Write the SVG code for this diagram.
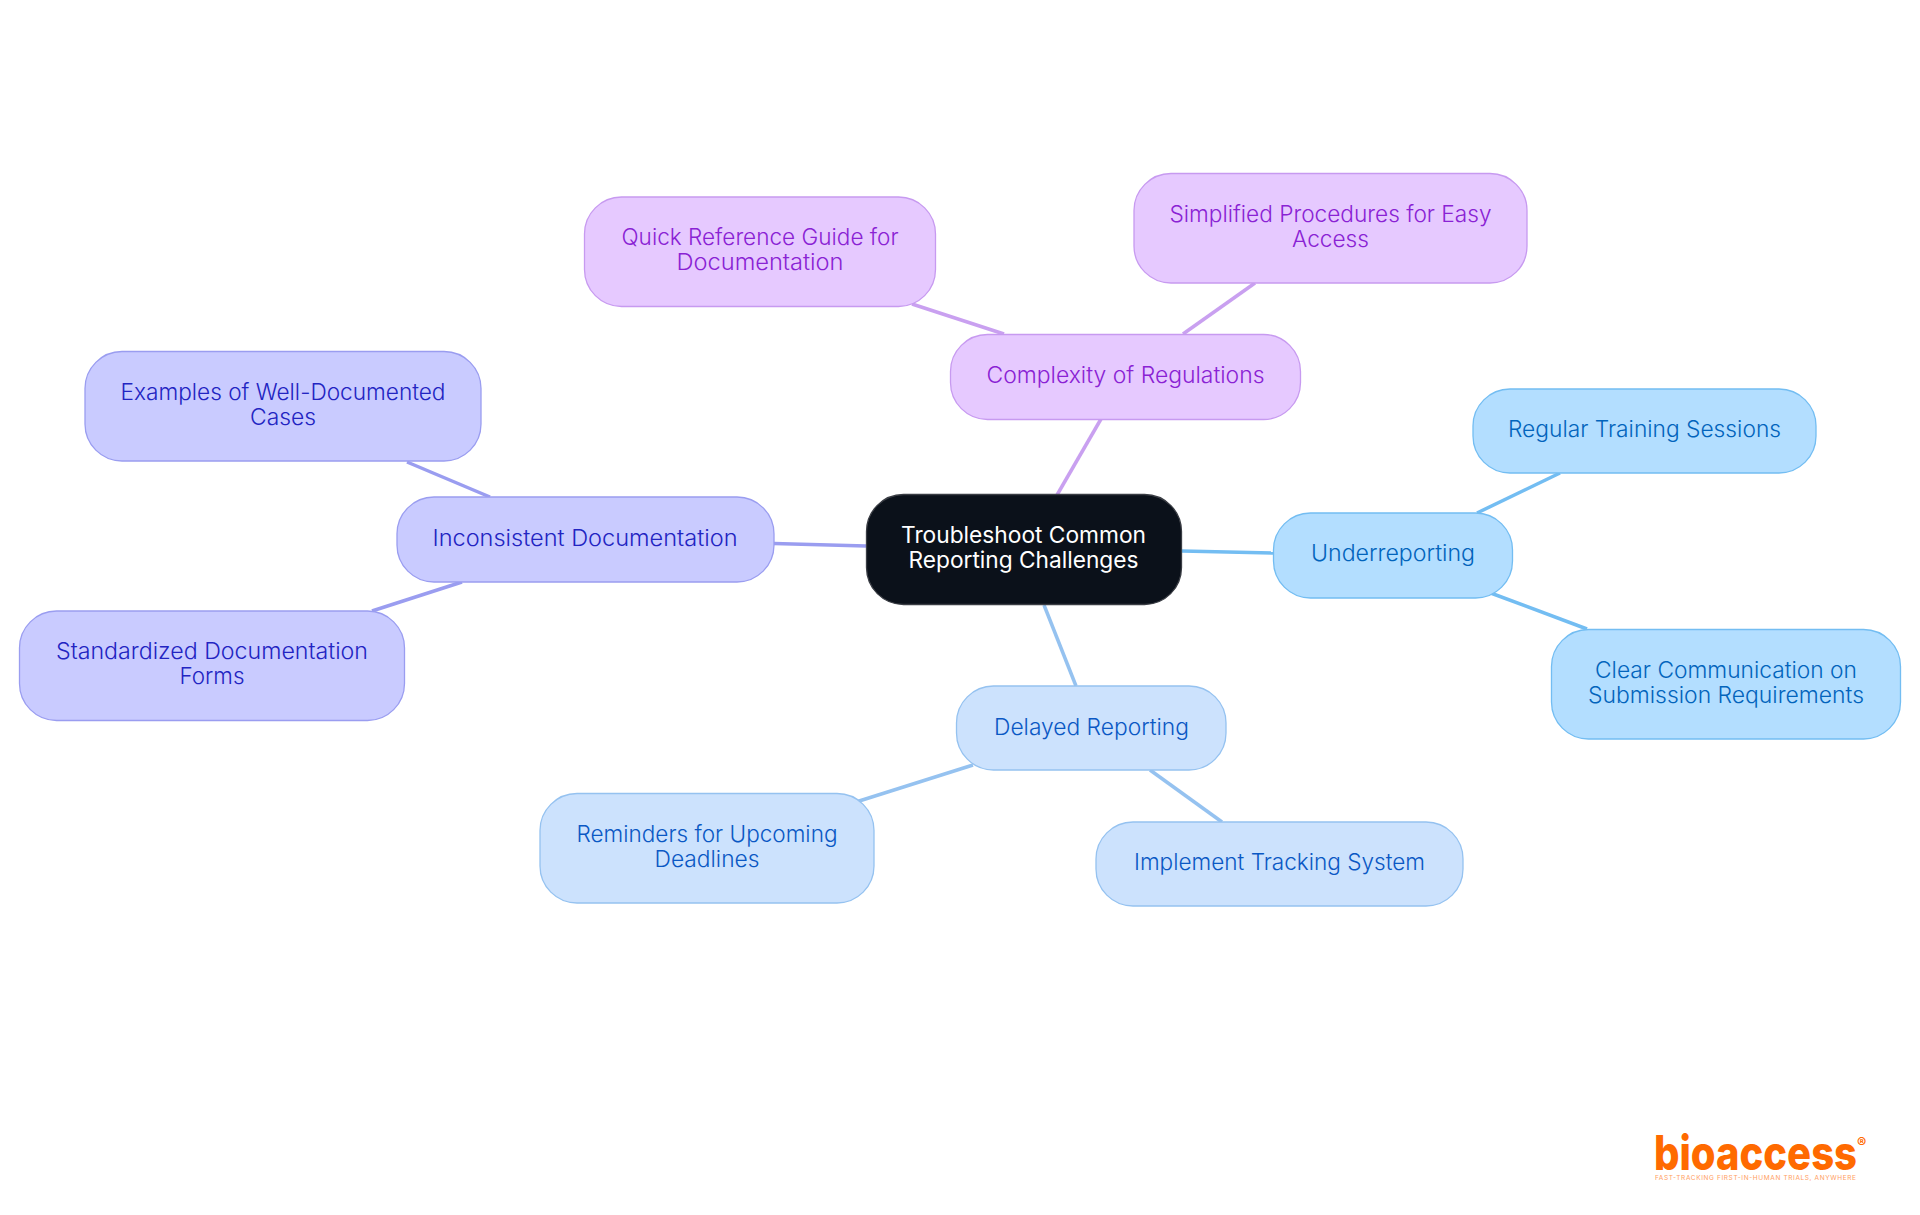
<svg xmlns="http://www.w3.org/2000/svg" width="1920" height="1215" viewBox="0 0 1920 1215">
<style>
text{font-family:"Inter","Noto Sans","Liberation Sans",sans-serif;font-size:22.400px;font-weight:350;text-anchor:middle}
.e{fill:none;stroke-width:3.5px}
.n rect{stroke-width:1.3px}
.root rect{fill:#0b111a;stroke:#3a3d44}.root text{fill:#fff;font-weight:400}
.pur rect{fill:#e6c9ff;stroke:#c79af0}.pur text{fill:#8a22d4}.pe{stroke:#c9a0f0}
.sky rect{fill:#b3deff;stroke:#73bdf2}.sky text{fill:#0264bc}.se{stroke:#73bdf2}
.blu rect{fill:#cce2fd;stroke:#95c2f0}.blu text{fill:#0a58c4}.be{stroke:#95c2f0}
.ind rect{fill:#c9cbff;stroke:#9a9df0}.ind text{fill:#2224c2}.ie{stroke:#9a9df0}
.logo text{fill:#ff6a00;text-anchor:start}
</style>
<rect width="1920" height="1215" fill="#fff"/>
<g id="connectors">
<line class="e pe" x1="1057" y1="495" x2="1101" y2="419"/>
<line class="e pe" x1="912" y1="304" x2="1004" y2="334"/>
<line class="e pe" x1="1183" y1="334" x2="1255" y2="283"/>
<line class="e ie" x1="774" y1="543.500" x2="866" y2="546"/>
<line class="e ie" x1="407" y1="462" x2="490" y2="497"/>
<line class="e ie" x1="462" y1="582" x2="372" y2="611"/>
<line class="e se" x1="1182" y1="551" x2="1273" y2="553"/>
<line class="e se" x1="1477" y1="513" x2="1560" y2="473"/>
<line class="e se" x1="1488" y1="592" x2="1587" y2="629"/>
<line class="e be" x1="1044" y1="605" x2="1076" y2="686"/>
<line class="e be" x1="973" y1="765" x2="856" y2="802"/>
<line class="e be" x1="1150" y1="770" x2="1222" y2="822"/>
</g>
<g id="root" class="n root"><rect x="866.500" y="494.500" width="315" height="110" rx="37"/><text x="1023.500" y="543" textLength="245" lengthAdjust="spacingAndGlyphs">Troubleshoot Common</text><text x="1023.500" y="568" textLength="230" lengthAdjust="spacingAndGlyphs">Reporting Challenges</text></g>
<g id="complexity" class="n pur"><rect x="950.500" y="334.500" width="350" height="85" rx="37"/><text x="1125.500" y="383" textLength="278" lengthAdjust="spacingAndGlyphs">Complexity of Regulations</text></g>
<g id="quick" class="n pur"><rect x="584.500" y="197" width="351" height="109.500" rx="37"/><text x="760" y="245" textLength="277" lengthAdjust="spacingAndGlyphs">Quick Reference Guide for</text><text x="760" y="270" textLength="167" lengthAdjust="spacingAndGlyphs">Documentation</text></g>
<g id="simplified" class="n pur"><rect x="1134" y="173.500" width="393" height="109.500" rx="37"/><text x="1330.500" y="222" textLength="322" lengthAdjust="spacingAndGlyphs">Simplified Procedures for Easy</text><text x="1330.500" y="247" textLength="77" lengthAdjust="spacingAndGlyphs">Access</text></g>
<g id="inconsistent" class="n ind"><rect x="397" y="497" width="377" height="85" rx="37"/><text x="585" y="546" textLength="305" lengthAdjust="spacingAndGlyphs">Inconsistent Documentation</text></g>
<g id="examples" class="n ind"><rect x="85" y="351.500" width="396" height="109.500" rx="37"/><text x="283" y="400" textLength="325" lengthAdjust="spacingAndGlyphs">Examples of Well-Documented</text><text x="283" y="425" textLength="66" lengthAdjust="spacingAndGlyphs">Cases</text></g>
<g id="standardized" class="n ind"><rect x="19.500" y="611" width="385" height="109.500" rx="37"/><text x="212" y="659" textLength="312" lengthAdjust="spacingAndGlyphs">Standardized Documentation</text><text x="212" y="684" textLength="65" lengthAdjust="spacingAndGlyphs">Forms</text></g>
<g id="underreporting" class="n sky"><rect x="1273.500" y="513" width="239" height="85" rx="37"/><text x="1393" y="561" textLength="164" lengthAdjust="spacingAndGlyphs">Underreporting</text></g>
<g id="regular" class="n sky"><rect x="1473" y="389" width="343" height="84" rx="37"/><text x="1644.500" y="437" textLength="273" lengthAdjust="spacingAndGlyphs">Regular Training Sessions</text></g>
<g id="clear" class="n sky"><rect x="1551.500" y="629.500" width="349" height="109.500" rx="37"/><text x="1726" y="678" textLength="262" lengthAdjust="spacingAndGlyphs">Clear Communication on</text><text x="1726" y="703" textLength="276" lengthAdjust="spacingAndGlyphs">Submission Requirements</text></g>
<g id="delayed" class="n blu"><rect x="956.500" y="686" width="269.500" height="84" rx="37"/><text x="1091.500" y="735" textLength="195" lengthAdjust="spacingAndGlyphs">Delayed Reporting</text></g>
<g id="reminders" class="n blu"><rect x="540" y="793.500" width="334" height="109.500" rx="37"/><text x="707" y="842" textLength="261" lengthAdjust="spacingAndGlyphs">Reminders for Upcoming</text><text x="707" y="867" textLength="105" lengthAdjust="spacingAndGlyphs">Deadlines</text></g>
<g id="implement" class="n blu"><rect x="1096" y="822" width="367" height="84" rx="37"/><text x="1279.500" y="870" textLength="291" lengthAdjust="spacingAndGlyphs">Implement Tracking System</text></g>
<g id="logo" class="logo">
<text x="1654" y="1170" style="font-size:48px;font-weight:800" textLength="203" lengthAdjust="spacingAndGlyphs">bioaccess</text>
<text x="1857" y="1148" style="font-size:14px;font-weight:700">®</text>
<text x="1655" y="1180" style="font-size:6.500px;font-weight:400;opacity:.65" textLength="201">FAST-TRACKING FIRST-IN-HUMAN TRIALS, ANYWHERE</text>
</g>
</svg>
